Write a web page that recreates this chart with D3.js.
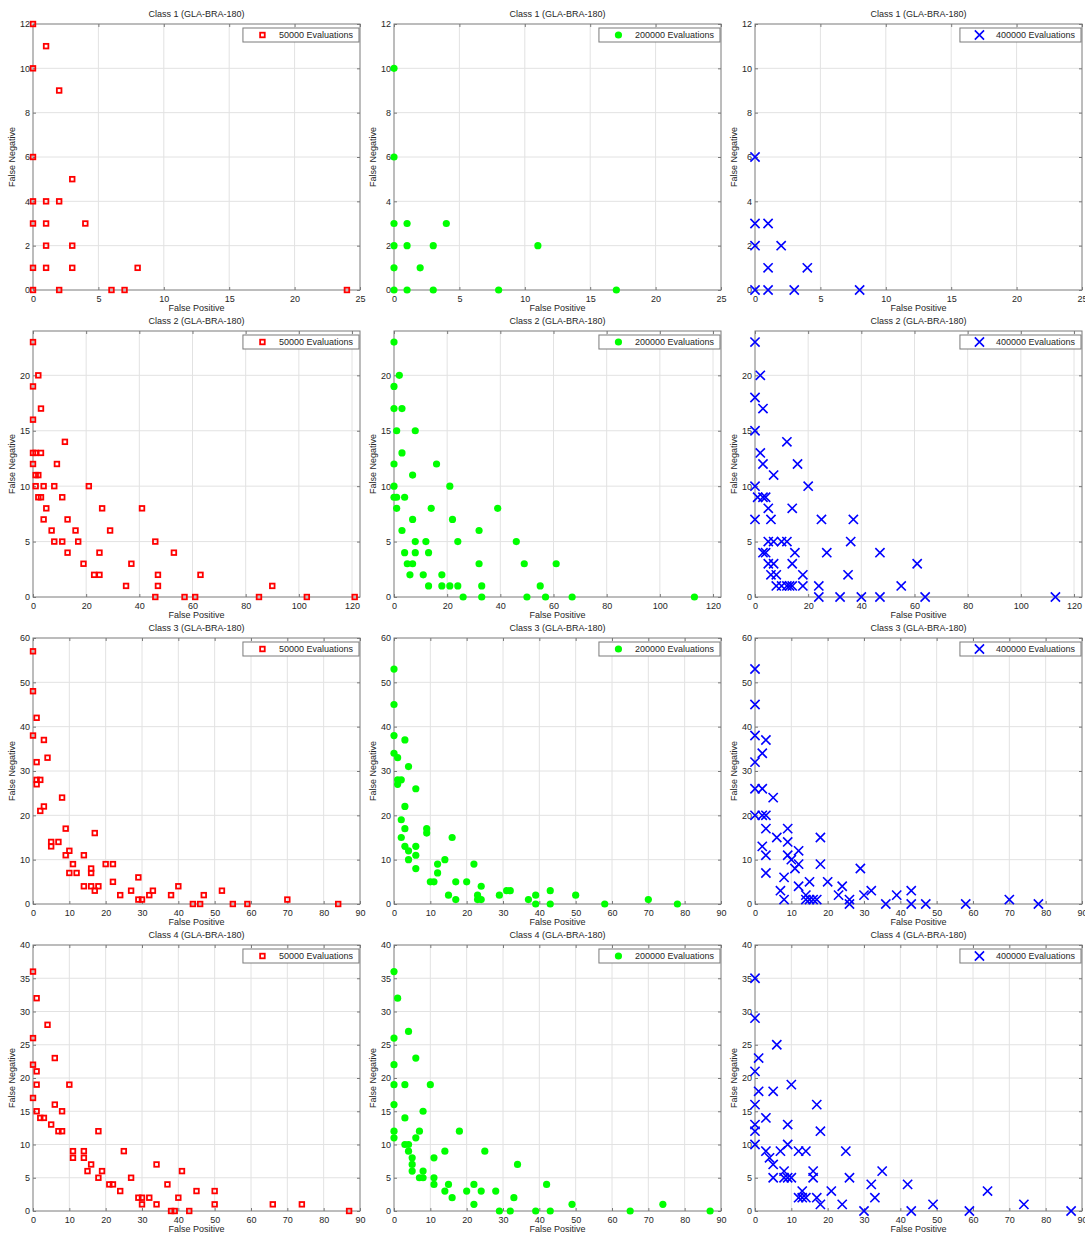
<!DOCTYPE html>
<html>
<head>
<meta charset="utf-8">
<script src="https://cdn.jsdelivr.net/npm/d3@7"></script>
<style>
  html, body { margin: 0; padding: 0; background: #ffffff; }
  svg { display: block; font-family: "Liberation Sans", Arial, sans-serif; }
</style>
</head>
<body>
<svg id="chart" width="1085" height="1237"></svg>
<script>
// ---------------- DATA ----------------
const evaluations = ["50000 Evaluations", "200000 Evaluations", "400000 Evaluations"];
const classTitles = ["Class 1 (GLA-BRA-180)", "Class 2 (GLA-BRA-180)", "Class 3 (GLA-BRA-180)", "Class 4 (GLA-BRA-180)"];
const xLimits = [25, 123, 90, 90];
const yLimits = [12, 24, 60, 40];
const xTickValues = [
  [0, 5, 10, 15, 20, 25],
  [0, 20, 40, 60, 80, 100, 120],
  [0, 10, 20, 30, 40, 50, 60, 70, 80, 90],
  [0, 10, 20, 30, 40, 50, 60, 70, 80, 90]
];
const yTickValues = [
  [0, 2, 4, 6, 8, 10, 12],
  [0, 5, 10, 15, 20],
  [0, 10, 20, 30, 40, 50, 60],
  [0, 5, 10, 15, 20, 25, 30, 35, 40]
];

// [false positive, false negative]
const class1_50k = [[0,12],[1,11],[0,10],[2,9],[0,6],[3,5],[0,4],[1,4],[2,4],[0,3],[1,3],[4,3],[1,2],[3,2],[0,1],[1,1],[3,1],[8,1],[0,0],[2,0],[6,0],[7,0],[24,0]];
const class1_200k = [[0,10],[0,6],[0,3],[1,3],[4,3],[0,2],[1,2],[3,2],[11,2],[0,1],[2,1],[0,0],[1,0],[3,0],[8,0],[17,0]];
const class1_400k = [[0,6],[0,3],[1,3],[0,2],[2,2],[1,1],[4,1],[0,0],[1,0],[3,0],[8,0]];

const class2_50k = [[0,23],[2,20],[0,19],[3,17],[0,16],[12,14],[0,13],[1,13],[3,13],[0,12],[9,12],[1,11],[2,11],[1,10],[4,10],[8,10],[21,10],[2,9],[3,9],[11,9],[5,8],[26,8],[41,8],[4,7],[13,7],[7,6],[16,6],[29,6],[8,5],[11,5],[17,5],[46,5],[13,4],[25,4],[53,4],[19,3],[37,3],[23,2],[25,2],[47,2],[63,2],[35,1],[47,1],[90,1],[46,0],[57,0],[61,0],[85,0],[103,0],[121,0]];
const class2_200k = [[0,23],[2,20],[0,19],[0,17],[3,17],[1,15],[8,15],[3,13],[0,12],[16,12],[7,11],[0,10],[21,10],[0,9],[1,9],[4,9],[1,8],[14,8],[39,8],[7,7],[22,7],[3,6],[32,6],[8,5],[12,5],[24,5],[46,5],[4,4],[8,4],[13,4],[5,3],[7,3],[32,3],[49,3],[61,3],[6,2],[11,2],[18,2],[13,1],[18,1],[21,1],[24,1],[33,1],[55,1],[26,0],[33,0],[50,0],[57,0],[67,0],[113,0]];
const class2_400k = [[0,23],[2,20],[0,18],[3,17],[0,15],[12,14],[2,13],[3,12],[16,12],[7,11],[0,10],[20,10],[1,9],[3,9],[4,9],[5,8],[14,8],[0,7],[6,7],[25,7],[37,7],[5,5],[7,5],[10,5],[12,5],[36,5],[3,4],[4,4],[15,4],[27,4],[47,4],[5,3],[7,3],[14,3],[61,3],[6,2],[8,2],[18,2],[35,2],[8,1],[10,1],[12,1],[13,1],[14,1],[18,1],[24,1],[55,1],[24,0],[32,0],[40,0],[47,0],[64,0],[113,0]];

const class3_50k = [[0,57],[0,48],[1,42],[0,38],[3,37],[4,33],[1,32],[1,28],[2,28],[1,27],[8,24],[3,22],[2,21],[9,17],[17,16],[5,14],[7,14],[5,13],[10,12],[9,11],[14,11],[11,9],[20,9],[22,9],[16,8],[10,7],[12,7],[16,7],[29,6],[22,5],[14,4],[16,4],[18,4],[40,4],[17,3],[27,3],[33,3],[52,3],[24,2],[32,2],[38,2],[47,2],[29,1],[30,1],[70,1],[44,0],[46,0],[55,0],[59,0],[84,0]];
const class3_200k = [[0,53],[0,45],[0,38],[3,37],[0,34],[1,33],[4,31],[1,28],[2,28],[1,27],[6,26],[3,22],[2,19],[3,17],[9,17],[9,16],[2,15],[16,15],[3,13],[6,13],[4,12],[6,11],[4,10],[14,10],[12,9],[22,9],[6,8],[12,7],[10,5],[11,5],[17,5],[20,5],[24,4],[31,3],[32,3],[43,3],[15,2],[23,2],[29,2],[39,2],[50,2],[17,1],[23,1],[24,1],[37,1],[70,1],[39,0],[43,0],[58,0],[78,0]];
const class3_400k = [[0,53],[0,45],[0,38],[3,37],[2,34],[0,32],[0,26],[2,26],[5,24],[0,20],[2,20],[3,20],[3,17],[9,17],[6,15],[18,15],[9,14],[2,13],[12,12],[3,11],[9,11],[10,10],[12,9],[11,8],[18,9],[29,8],[3,7],[8,6],[15,5],[20,5],[12,4],[24,4],[7,3],[32,3],[43,3],[14,2],[23,2],[30,2],[39,2],[8,1],[14,1],[15,1],[16,1],[17,1],[26,1],[70,1],[26,0],[36,0],[43,0],[47,0],[58,0],[78,0]];

const class4_50k = [[0,36],[1,32],[4,28],[0,26],[6,23],[0,22],[1,21],[1,19],[10,19],[0,17],[6,16],[1,15],[8,15],[2,14],[3,14],[5,13],[7,12],[8,12],[18,12],[11,9],[14,9],[25,9],[11,8],[14,8],[16,7],[34,7],[15,6],[19,6],[41,6],[18,5],[27,5],[21,4],[22,4],[37,4],[24,3],[45,3],[50,3],[29,2],[30,2],[32,2],[40,2],[30,1],[34,1],[50,1],[66,1],[74,1],[38,0],[39,0],[43,0],[87,0]];
const class4_200k = [[0,36],[1,32],[4,27],[0,26],[6,23],[0,22],[0,19],[3,19],[10,19],[0,16],[8,15],[3,14],[0,12],[7,12],[18,12],[0,11],[6,11],[3,10],[4,10],[4,9],[14,9],[25,9],[5,8],[11,8],[5,7],[34,7],[5,6],[8,6],[7,5],[8,5],[11,5],[11,4],[15,4],[22,4],[42,4],[14,3],[20,3],[24,3],[28,3],[16,2],[33,2],[22,1],[49,1],[74,1],[29,0],[32,0],[39,0],[43,0],[65,0],[87,0]];
const class4_400k = [[0,35],[0,29],[6,25],[1,23],[0,21],[1,18],[5,18],[10,19],[0,16],[17,16],[3,14],[0,13],[9,13],[0,12],[18,12],[0,10],[9,10],[3,9],[7,9],[12,9],[14,9],[25,9],[4,8],[5,7],[8,6],[16,6],[35,6],[5,5],[8,5],[9,5],[10,5],[16,5],[26,5],[32,4],[42,4],[13,3],[21,3],[64,3],[12,2],[13,2],[14,2],[17,2],[33,2],[18,1],[24,1],[49,1],[74,1],[30,0],[43,0],[59,0],[87,0]];

const panelData = [
  [class1_50k, class1_200k, class1_400k],
  [class2_50k, class2_200k, class2_400k],
  [class3_50k, class3_200k, class3_400k],
  [class4_50k, class4_200k, class4_400k]
];

// ---------------- LAYOUT ----------------
const colLeft = [33, 394, 755];
const rowTop = [24, 331, 638, 945];
const W = 327, H = 266;
const markerStyle = ["square", "circle", "cross"];
const markerColor = ["#ff0000", "#00ff00", "#0000ff"];
const textColor = "#262626";
const boxColor = "#7a7a7a";
const gridColor = "#e2e2e2";

const svg = d3.select("#chart");
svg.append("rect").attr("width", 1085).attr("height", 1237).attr("fill", "#fff");

function drawMarker(g, type, color, cx, cy) {
  if (type === "square") {
    g.append("rect").attr("x", cx - 2.3).attr("y", cy - 2.3).attr("width", 4.6).attr("height", 4.6)
      .attr("fill", "none").attr("stroke", color).attr("stroke-width", 1.8);
  } else if (type === "circle") {
    g.append("circle").attr("cx", cx).attr("cy", cy).attr("r", 3.6).attr("fill", color);
  } else {
    const s = 4.6;
    g.append("path").attr("d", `M${cx - s},${cy - s}L${cx + s},${cy + s}M${cx - s},${cy + s}L${cx + s},${cy - s}`)
      .attr("stroke", color).attr("stroke-width", 1.6).attr("fill", "none");
  }
}

for (let r = 0; r < 4; r++) {
  for (let c = 0; c < 3; c++) {
    const g = svg.append("g").attr("transform", `translate(${colLeft[c]},${rowTop[r]})`);
    const x = d3.scaleLinear().domain([0, xLimits[r]]).range([0, W]);
    const y = d3.scaleLinear().domain([0, yLimits[r]]).range([H, 0]);

    // grid
    const grid = g.append("g");
    xTickValues[r].forEach(v => {
      if (v > 0 && v < xLimits[r]) grid.append("line").attr("x1", x(v)).attr("x2", x(v)).attr("y1", 0).attr("y2", H)
        .attr("stroke", gridColor).attr("stroke-width", 1);
    });
    yTickValues[r].forEach(v => {
      if (v > 0 && v < yLimits[r]) grid.append("line").attr("x1", 0).attr("x2", W).attr("y1", y(v)).attr("y2", y(v))
        .attr("stroke", gridColor).attr("stroke-width", 1);
    });

    // axes (ticks inward)
    const ax = g.append("g").attr("transform", `translate(0,${H})`)
      .call(d3.axisBottom(x).tickValues(xTickValues[r]).tickSize(-3).tickSizeOuter(0).tickPadding(5.5).tickFormat(d3.format("d")));
    const ay = g.append("g")
      .call(d3.axisLeft(y).tickValues(yTickValues[r]).tickSize(-3).tickSizeOuter(0).tickPadding(3).tickFormat(d3.format("d")));
    const at = g.append("g")
      .call(d3.axisTop(x).tickValues(xTickValues[r]).tickSize(-3).tickSizeOuter(0).tickFormat(""));
    const ar = g.append("g").attr("transform", `translate(${W},0)`)
      .call(d3.axisRight(y).tickValues(yTickValues[r]).tickSize(-3).tickSizeOuter(0).tickFormat(""));
    [ax, ay, at, ar].forEach(a => {
      a.select(".domain").remove();
      a.selectAll(".tick line").attr("stroke", boxColor);
      a.selectAll(".tick text").attr("fill", textColor).attr("font-size", 9)
        .attr("font-family", "'Liberation Sans', Arial, sans-serif");
    });

    // box
    g.append("rect").attr("x", 0).attr("y", 0).attr("width", W).attr("height", H)
      .attr("fill", "none").attr("stroke", boxColor).attr("stroke-width", 1);

    // title & labels
    g.append("text").attr("x", W / 2).attr("y", -7).attr("text-anchor", "middle")
      .attr("font-size", 9).attr("fill", textColor).text(classTitles[r]);
    g.append("text").attr("x", W / 2).attr("y", H + 21).attr("text-anchor", "middle")
      .attr("font-size", 9).attr("fill", textColor).text("False Positive");
    g.append("text").attr("transform", `translate(-18,${H / 2}) rotate(-90)`).attr("text-anchor", "middle")
      .attr("font-size", 9).attr("fill", textColor).text("False Negative");

    // points
    const pts = g.append("g");
    panelData[r][c].forEach(d => drawMarker(pts, markerStyle[c], markerColor[c], x(d[0]), y(d[1])));

    // legend
    const lg = g.append("g");
    const lt = lg.append("text").attr("font-size", 9).attr("fill", textColor).text(evaluations[c]);
    const tw = lt.node().getComputedTextLength();
    const bw = 36 + tw + 6, bh = 14;
    const bx = W - 1 - bw, by = 4;
    lg.insert("rect", "text").attr("x", bx).attr("y", by).attr("width", bw).attr("height", bh)
      .attr("fill", "#fff").attr("stroke", boxColor).attr("stroke-width", 1);
    lt.attr("x", bx + 36).attr("y", by + bh / 2 + 3.2);
    drawMarker(lg, markerStyle[c], markerColor[c], bx + 19.5, by + bh / 2);
  }
}
</script>
</body>
</html>
